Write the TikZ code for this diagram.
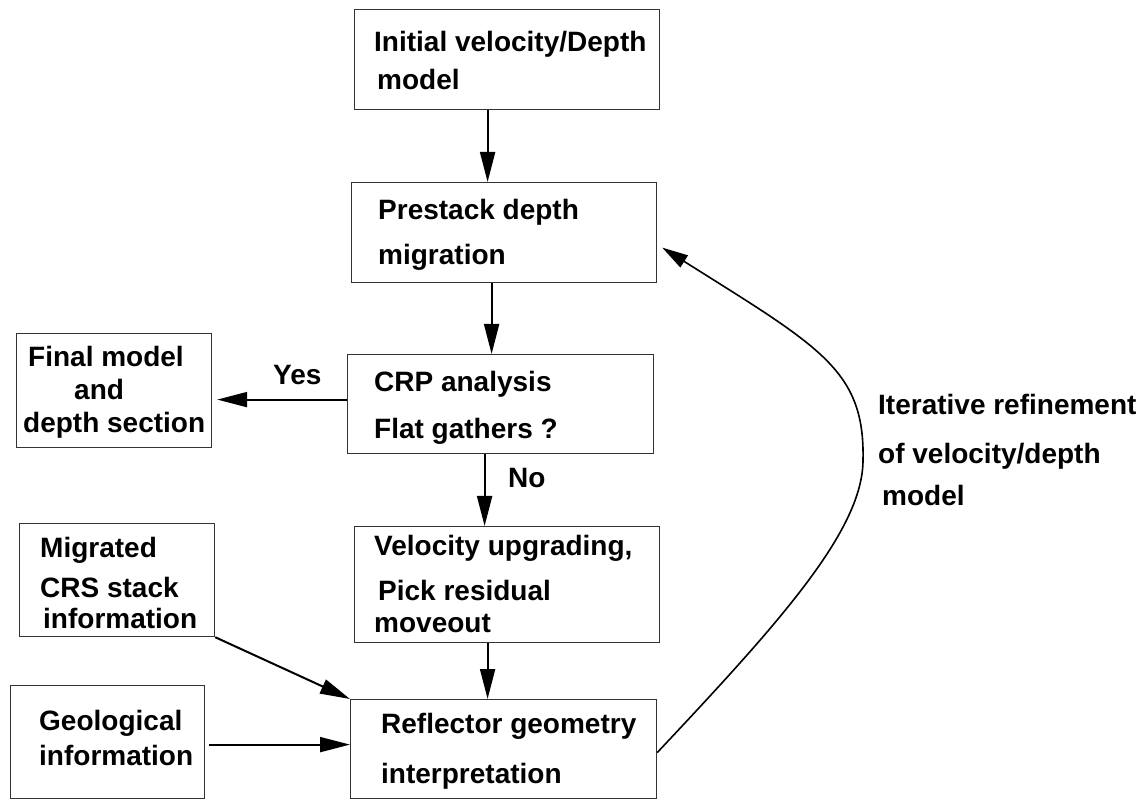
\documentclass[tikz,border=0pt]{standalone}
\usepackage{fontspec}
\setmainfont{Liberation Sans}
\usetikzlibrary{arrows.meta}
\tikzset{
  box/.style={draw=black!80, line width=1.2pt, rectangle, inner sep=0pt, anchor=north west},
  lbl/.style={anchor=base west, inner sep=0pt, font=\fontsize{28}{34}\selectfont\bfseries},
  arr/.style={line width=2pt, -{Triangle[length=30pt,width=15pt]}},
  carr/.style={line width=1.6pt, -{Triangle[length=26pt,width=14pt]}}
}
\begin{document}
\begin{tikzpicture}[x=1pt,y=-1pt]
\useasboundingbox (0,0) rectangle (1144,799);
% boxes
\node[box, minimum width=305pt, minimum height=100pt] (b1) at (354,9) {};
\node[box, minimum width=305pt, minimum height=100pt] (b2) at (351,182) {};
\node[box, minimum width=306pt, minimum height=99pt] (b3) at (347,354) {};
\node[box, minimum width=305pt, minimum height=116pt] (b4) at (354,526) {};
\node[box, minimum width=306pt, minimum height=99pt] (b5) at (350,699) {};
\node[box, minimum width=195pt, minimum height=114pt] (fin) at (16,333) {};
\node[box, minimum width=195pt, minimum height=113pt] (mig) at (19,523) {};
\node[box, minimum width=194pt, minimum height=113pt] (geo) at (10,685) {};
% texts
\node[lbl] (t1a) at (374,52) {Initial velocity/Depth};
\node[lbl] (t1b) at (377,90) {model};
\node[lbl] (t2a) at (378,220) {Prestack depth};
\node[lbl] (t2b) at (378,265) {migration};
\node[lbl] (t3a) at (374,392) {CRP analysis};
\node[lbl] (t3b) at (374,439) {Flat gathers ?};
\node[lbl] (t4a) at (374,555) {Velocity upgrading,};
\node[lbl] (t4b) at (378,600) {Pick residual};
\node[lbl] (t4c) at (374,632) {moveout};
\node[lbl] (t5a) at (381,733) {Reflector geometry};
\node[lbl] (t5b) at (381,783) {interpretation};
\node[lbl] (tfa) at (28,367) {Final model};
\node[lbl] (tfb) at (74,400) {and};
\node[lbl] (tfc) at (23,433) {depth section};
\node[lbl] (tma) at (40,557) {Migrated};
\node[lbl] (tmb) at (40,597) {CRS stack};
\node[lbl] (tmc) at (43,628) {information};
\node[lbl] (tga) at (39,730) {Geological};
\node[lbl] (tgb) at (39,765) {information};
\node[lbl] (tyes) at (273,385) {Yes};
\node[lbl] (tno) at (508,488) {No};
\node[lbl] (tia) at (878,415) {Iterative refinement};
\node[lbl] (tib) at (878,464) {of velocity/depth};
\node[lbl] (tic) at (882,506) {model};
% connectors
\draw[arr] ([shift={(-19.5,0)}]b1.south) -- ([shift={(-19.5,0)}]b1.south |- b2.north);
\draw[arr] ([shift={(-12.5,0)}]b2.south) -- ([shift={(-12.5,0)}]b2.south |- b3.north);
\draw[arr] ([shift={(-16,0)}]b3.south) -- ([shift={(-16,0)}]b3.south |- b4.north);
\draw[arr] ([shift={(-19.5,0)}]b4.south) -- ([shift={(-19.5,0)}]b4.south |- b5.north);
\draw[arr, shorten >=5pt] ([shift={(0,-4.5)}]b3.west) -- ([shift={(0,-4.5)}]b3.west -| fin.east);
\draw[arr] ([shift={(4,-4.5)}]b5.west -| geo.east) -- ([shift={(0,-4.5)}]b5.west);
\draw[arr] (mig.south east) -- (b5.north west);
\coordinate (ctip) at ([shift={(5,15)}]b2.east);
\draw[carr] ([shift={(0,3.5)}]b5.east) .. controls (780,622) and (863,530) .. (863,460)
  .. controls (865,370) and (820,347) .. (ctip);
\end{tikzpicture}
\end{document}
